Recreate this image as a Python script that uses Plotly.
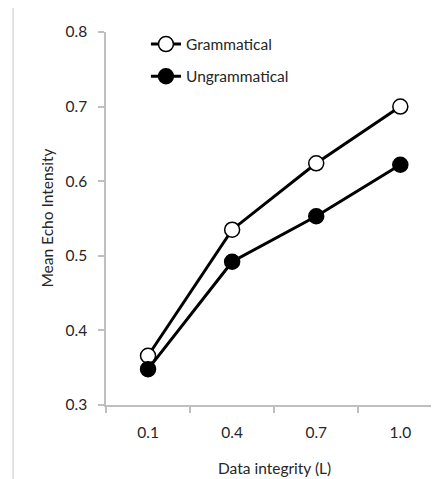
import plotly.graph_objects as go

categories = ["0.1", "0.4", "0.7", "1.0"]
grammatical = [0.366, 0.535, 0.624, 0.700]
ungrammatical = [0.348, 0.492, 0.553, 0.622]
series_names = ["Grammatical", "Ungrammatical"]

FONT = "Lato"
TXT = "#262626"
AX = "#bfbfbf"
FS = 15.5

fig = go.Figure()
fig.add_trace(go.Scatter(
    x=categories, y=grammatical, name=series_names[0], mode="lines+markers",
    legendgroup="g",
    line=dict(color="black", width=3),
    marker=dict(size=15, color="white", line=dict(color="black", width=1.5)),
))
fig.add_trace(go.Scatter(
    x=categories, y=ungrammatical, name=series_names[1], mode="lines+markers",
    legendgroup="u",
    line=dict(color="black", width=3),
    marker=dict(size=15, color="black", line=dict(color="black", width=1.5)),
))

fig.update_layout(
    width=431, height=471,
    margin=dict(l=98, r=0, t=24, b=74),
    plot_bgcolor="white", paper_bgcolor="white",
    font=dict(family=FONT, size=FS, color=TXT),
    showlegend=True,
    legend=dict(x=0.12, y=1.012, xanchor="left", yanchor="top",
                traceorder="grouped", tracegroupgap=9,
                bgcolor="rgba(0,0,0,0)", font=dict(size=FS, color=TXT)),
    xaxis=dict(type="category", range=[-0.5, 3.46], showgrid=False, zeroline=False,
               showline=True, linecolor=AX, linewidth=1.5,
               ticks="outside", tickson="boundaries", ticklen=6, tickcolor=AX, tickwidth=1.5,
               ticklabelstandoff=13),
    yaxis=dict(range=[0.3, 0.8], dtick=0.1, tickformat=".1f", showgrid=False, zeroline=False,
               showline=True, linecolor=AX, linewidth=1.5,
               ticks="outside", ticklen=6, tickcolor=AX, tickwidth=1.5,
               ticklabelstandoff=8),
    annotations=[
        dict(text="Data integrity (L)", xref="paper", yref="paper", x=0.5075, y=-0.169,
             xanchor="center", yanchor="middle", showarrow=False, font=dict(size=FS, color=TXT)),
        dict(text="Mean Echo Intensity", xref="paper", yref="paper", x=-0.18, y=0.5,
             xanchor="center", yanchor="middle", textangle=-90, showarrow=False,
             font=dict(size=FS, color=TXT)),
    ],
    shapes=[
        dict(type="line", xref="paper", yref="paper", x0=-0.279, x1=-0.279, y0=1.072, y1=-0.2,
             line=dict(color="#d9d9d9", width=1.5)),
    ],
)

fig.write_html("out.html")
